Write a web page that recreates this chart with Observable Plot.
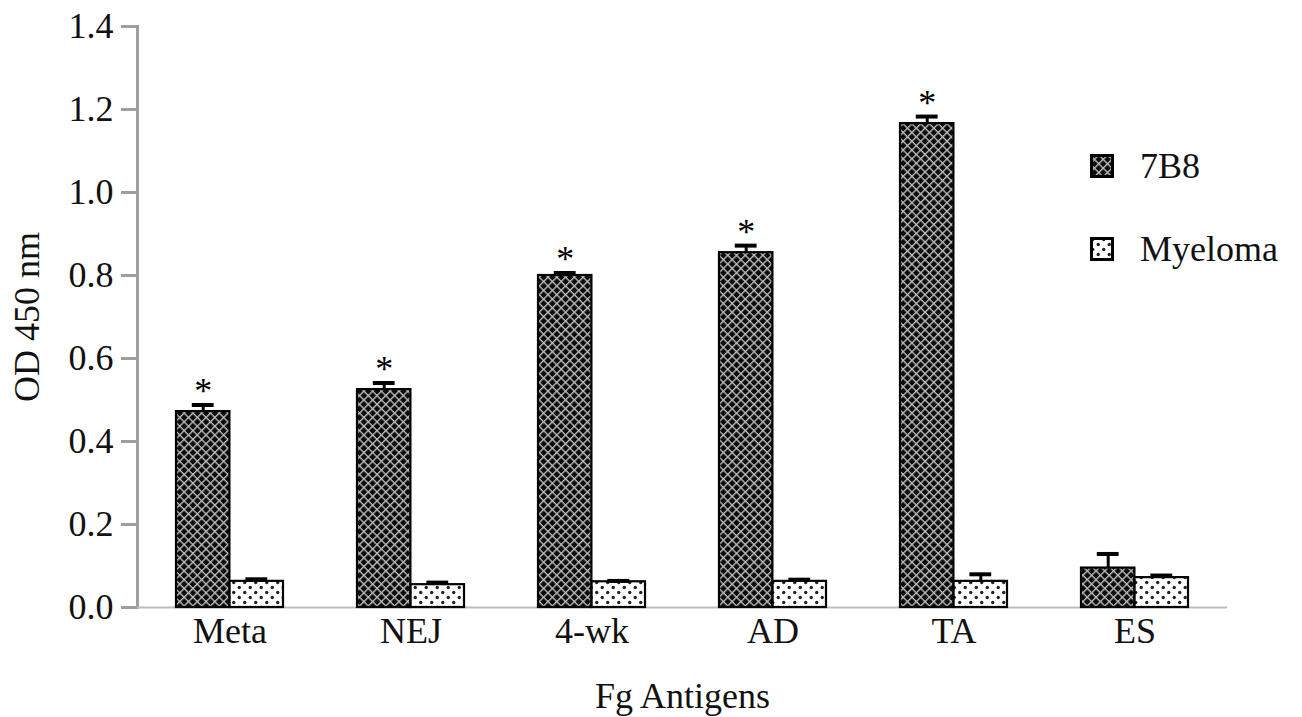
<!DOCTYPE html>
<html>
<head>
<meta charset="utf-8">
<script src="https://cdn.jsdelivr.net/npm/d3@7"></script>
<script src="https://cdn.jsdelivr.net/npm/@observablehq/plot@0.6"></script>
<style>
  html, body { margin: 0; padding: 0; background: #fff; }
  #wrap { position: relative; width: 1302px; height: 717px; font-family: "Liberation Serif", "Times New Roman", serif; }
  #legend { position: absolute; left: 1090px; top: 141px; font-size: 36px; color: #111; }
  .item { position: absolute; left: 0; display: flex; align-items: center; white-space: nowrap; }
  .item svg { display: block; margin-right: 26px; }
</style>
</head>
<body>
<div id="wrap"><div id="chart"></div><div id="legend"></div></div>
<script>
// ---- data ----
const antigens = ["Meta", "NEJ", "4-wk", "AD", "TA", "ES"];
const series = ["7B8", "Myeloma"];
const od7B8 = [0.472, 0.525, 0.800, 0.855, 1.166, 0.095];
const err7B8 = [0.016, 0.016, 0.006, 0.017, 0.017, 0.034];
const odMyeloma = [0.063, 0.055, 0.062, 0.063, 0.063, 0.072];
const errMyeloma = [0.005, 0.005, 0.002, 0.004, 0.017, 0.005];
const significant = [true, true, true, true, true, false];
const yTicks = [0, 0.2, 0.4, 0.6, 0.8, 1.0, 1.2, 1.4];

const rows7B8 = antigens.map((a, i) => ({antigen: a, value: od7B8[i], err: err7B8[i], sig: significant[i]}));
const rowsMy = antigens.map((a, i) => ({antigen: a, value: odMyeloma[i], err: errMyeloma[i]}));

const width = 1302, height = 717;
const marginLeft = 137, marginRight = 75, marginTop = 26, marginBottom = 110;
const paddingInner = 0.41, paddingOuter = 0.205;
const step = (width - marginLeft - marginRight) / (antigens.length - paddingInner + 2 * paddingOuter);
const bw = step * (1 - paddingInner);
const capHalf = 11;

const font = '"Liberation Serif", "Times New Roman", serif';

const chart = Plot.plot({
  width, height, marginLeft, marginRight, marginTop, marginBottom,
  style: {fontFamily: font, fontSize: "36px", color: "#111", background: "#fff"},
  x: {domain: antigens, paddingInner, paddingOuter},
  y: {domain: [0, 1.4]},
  marks: [
    Plot.frame({anchor: "left", stroke: "#9e9e9e", strokeWidth: 3}),
    Plot.ruleY([0], {stroke: "#bdbdbd", strokeWidth: 2}),
    Plot.axisY({ticks: yTicks, tickFormat: d3.format(".1f"), tickSize: 16, tickPadding: 8,
      stroke: "#9e9e9e", strokeWidth: 3, fill: "#111",
      label: "OD 450 nm", labelAnchor: "center", labelArrow: false, labelOffset: 124}),
    Plot.axisX({tickSize: 0, tickPadding: 10, fill: "#111",
      label: "Fg Antigens", labelAnchor: "center", labelArrow: false, labelOffset: 100}),
    // bars
    Plot.barY(rows7B8, {x: "antigen", y: "value", fill: "url(#pat7B8)", stroke: "#000", strokeWidth: 2.2, insetRight: bw / 2}),
    Plot.barY(rowsMy, {x: "antigen", y: "value", fill: "url(#patMy)", stroke: "#000", strokeWidth: 2.2, insetLeft: bw / 2}),
    // error bars
    Plot.ruleX(rows7B8, {x: "antigen", y1: "value", y2: d => d.value + d.err, dx: -bw / 4, stroke: "#000", strokeWidth: 3}),
    Plot.tickY(rows7B8, {x: "antigen", y: d => d.value + d.err, stroke: "#000", strokeWidth: 4,
      insetLeft: bw / 4 - capHalf, insetRight: 3 * bw / 4 - capHalf}),
    Plot.ruleX(rowsMy, {x: "antigen", y1: "value", y2: d => d.value + d.err, dx: bw / 4, stroke: "#000", strokeWidth: 3}),
    Plot.tickY(rowsMy, {x: "antigen", y: d => d.value + d.err, stroke: "#000", strokeWidth: 4,
      insetLeft: 3 * bw / 4 - capHalf, insetRight: bw / 4 - capHalf}),
    // significance asterisks
    Plot.text(rows7B8.filter(d => d.sig), {x: "antigen", y: d => d.value + d.err, text: () => "*",
      dx: -bw / 4, dy: -2, lineAnchor: "bottom", fontSize: 36, fill: "#000"})
  ]
});

const defsMarkup = `
  <pattern id="pat7B8" patternUnits="userSpaceOnUse" width="6.2" height="6.2" patternTransform="rotate(45)">
    <rect width="6.2" height="6.2" fill="#0b0b0b"></rect>
    <path d="M0,0.6 H6.2 M0.6,0 V6.2" stroke="#bfbfbf" stroke-width="1.5"></path>
  </pattern>
  <pattern id="patMy" patternUnits="userSpaceOnUse" width="11" height="10">
    <rect width="11" height="10" fill="#fff"></rect>
    <circle cx="2.75" cy="2.5" r="1.7" fill="#222"></circle>
    <circle cx="8.25" cy="7.5" r="1.7" fill="#222"></circle>
  </pattern>`;
const defs = document.createElementNS("http://www.w3.org/2000/svg", "defs");
defs.innerHTML = defsMarkup;
chart.insertBefore(defs, chart.firstChild);
document.getElementById("chart").appendChild(chart);

// legend
const legend = document.getElementById("legend");
const legendTops = {"7B8": 4, "Myeloma": 87};
const legendFill = {"7B8": "url(#pat7B8)", "Myeloma": "url(#patMy)"};
series.forEach(s => {
  const item = document.createElement("div");
  item.className = "item";
  item.style.top = legendTops[s] + "px";
  item.innerHTML = `<svg width="24" height="24"><rect x="1.5" y="1.5" width="21" height="21" fill="${legendFill[s]}" stroke="#000" stroke-width="3"></rect></svg><span>${s}</span>`;
  legend.appendChild(item);
});
</script>
</body>
</html>
